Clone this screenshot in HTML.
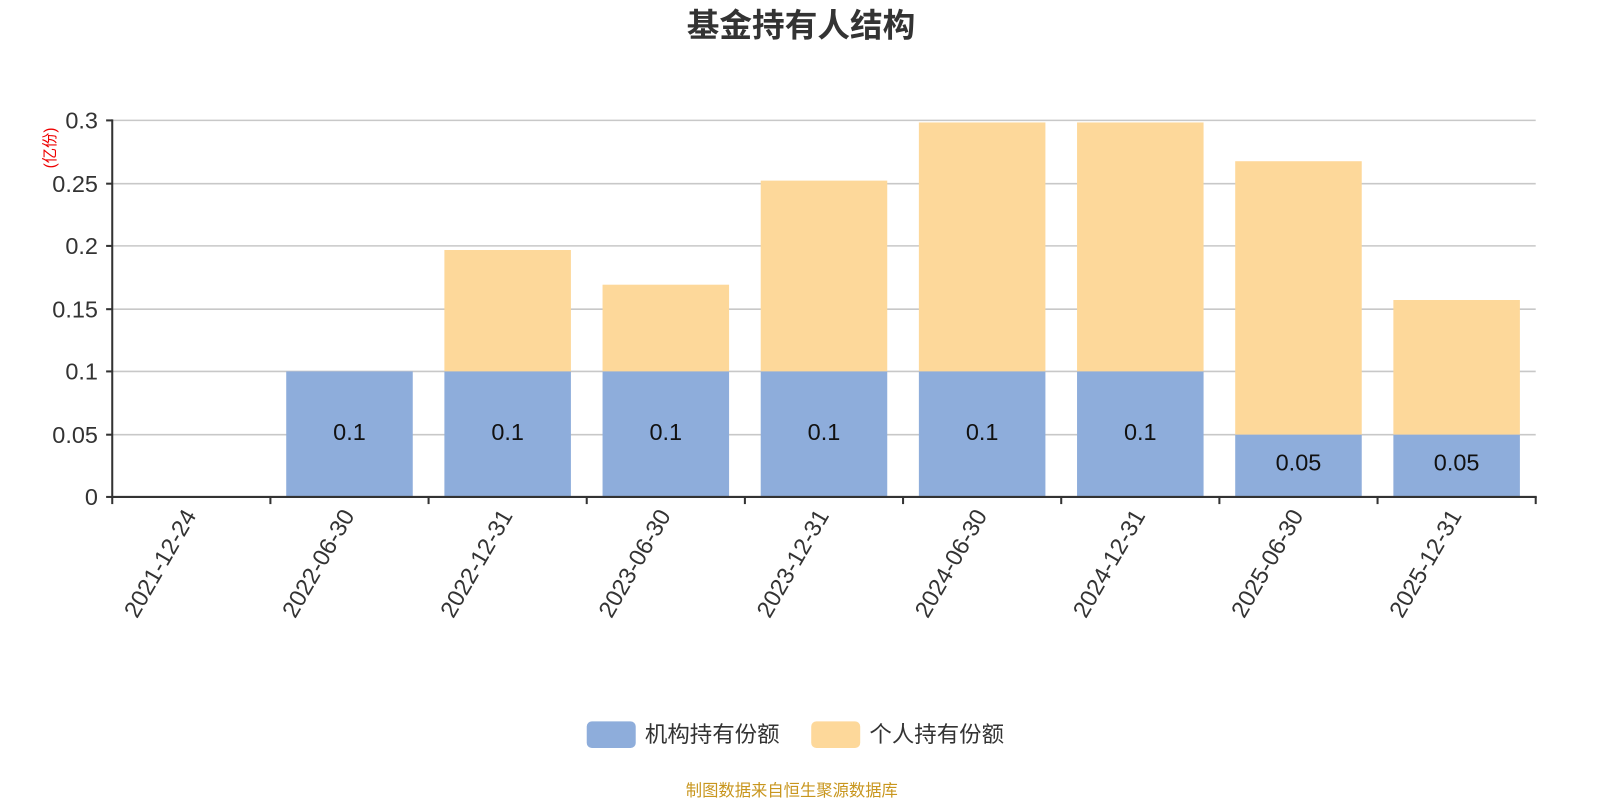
<!DOCTYPE html><html><head><meta charset="utf-8"><style>body{margin:0;background:#fff}svg{display:block}text{font-family:"Liberation Sans","Noto Sans CJK SC",sans-serif}</style></head><body>
<svg width="1600" height="800" viewBox="0 0 1568 784" xmlns="http://www.w3.org/2000/svg">
<text x="785" y="36" font-size="32" font-weight="bold" fill="#333" text-anchor="middle">基金持有人结构</text>
<text transform="translate(54,145) rotate(-90)" font-size="15" fill="#e00" text-anchor="middle">(亿份)</text>
<g stroke="#c8c8c8" stroke-width="1.5">
<line x1="110" x2="1505" y1="118" y2="118"/><line x1="110" x2="1505" y1="180" y2="180"/><line x1="110" x2="1505" y1="241" y2="241"/><line x1="110" x2="1505" y1="303" y2="303"/><line x1="110" x2="1505" y1="364" y2="364"/><line x1="110" x2="1505" y1="426" y2="426"/></g>
<g font-size="23" fill="#333" text-anchor="end">
<text x="96" y="126">0.3</text><text x="96" y="188">0.25</text><text x="96" y="249">0.2</text><text x="96" y="311">0.15</text><text x="96" y="372">0.1</text><text x="96" y="434">0.05</text><text x="96" y="495">0</text></g>
<g fill="#fdd89a">
<rect x="435.5" y="245" width="124" height="119"/><rect x="590.5" y="279" width="124" height="85"/><rect x="745.5" y="177" width="124" height="187"/><rect x="900.5" y="120" width="124" height="244"/><rect x="1055.5" y="120" width="124" height="244"/><rect x="1210.5" y="158" width="124" height="268"/><rect x="1365.5" y="294" width="124" height="132"/></g>
<g fill="#8eaddb">
<rect x="280.5" y="364" width="124" height="123"/><rect x="435.5" y="364" width="124" height="123"/><rect x="590.5" y="364" width="124" height="123"/><rect x="745.5" y="364" width="124" height="123"/><rect x="900.5" y="364" width="124" height="123"/><rect x="1055.5" y="364" width="124" height="123"/><rect x="1210.5" y="426" width="124" height="61"/><rect x="1365.5" y="426" width="124" height="61"/></g>
<g font-size="23" fill="#111" text-anchor="middle">
<text x="342.5" y="431">0.1</text><text x="497.5" y="431">0.1</text><text x="652.5" y="431">0.1</text><text x="807.5" y="431">0.1</text><text x="962.5" y="431">0.1</text><text x="1117.5" y="431">0.1</text><text x="1272.5" y="461">0.05</text><text x="1427.5" y="461">0.05</text></g>
<g stroke="#333" stroke-width="2">
<line x1="110" y1="117" x2="110" y2="488"/><line x1="104" x2="110" y1="118" y2="118"/><line x1="104" x2="110" y1="180" y2="180"/><line x1="104" x2="110" y1="241" y2="241"/><line x1="104" x2="110" y1="303" y2="303"/><line x1="104" x2="110" y1="364" y2="364"/><line x1="104" x2="110" y1="426" y2="426"/><line x1="104" x2="110" y1="487" y2="487"/>
<line x1="110" x2="1506" y1="487" y2="487"/>
<line x1="110" x2="110" y1="487" y2="494"/><line x1="265" x2="265" y1="487" y2="494"/><line x1="420" x2="420" y1="487" y2="494"/><line x1="575" x2="575" y1="487" y2="494"/><line x1="730" x2="730" y1="487" y2="494"/><line x1="885" x2="885" y1="487" y2="494"/><line x1="1040" x2="1040" y1="487" y2="494"/><line x1="1195" x2="1195" y1="487" y2="494"/><line x1="1350" x2="1350" y1="487" y2="494"/><line x1="1505" x2="1505" y1="487" y2="494"/></g>
<g font-size="23" fill="#333" text-anchor="end">
<text transform="translate(193,505) rotate(-60)">2021-12-24</text>
<text transform="translate(348,505) rotate(-60)">2022-06-30</text>
<text transform="translate(503,505) rotate(-60)">2022-12-31</text>
<text transform="translate(658,505) rotate(-60)">2023-06-30</text>
<text transform="translate(813,505) rotate(-60)">2023-12-31</text>
<text transform="translate(968,505) rotate(-60)">2024-06-30</text>
<text transform="translate(1123,505) rotate(-60)">2024-12-31</text>
<text transform="translate(1278,505) rotate(-60)">2025-06-30</text>
<text transform="translate(1433,505) rotate(-60)">2025-12-31</text></g>
<rect x="575" y="707" width="48" height="26" rx="5" fill="#8eaddb"/>
<text x="632" y="727" font-size="22" fill="#333">机构持有份额</text>
<rect x="795" y="707" width="48" height="26" rx="5" fill="#fdd89a"/>
<text x="852" y="727" font-size="22" fill="#333">个人持有份额</text>
<text x="776" y="780" font-size="16" fill="#c8961e" text-anchor="middle">制图数据来自恒生聚源数据库</text>
</svg></body></html>
